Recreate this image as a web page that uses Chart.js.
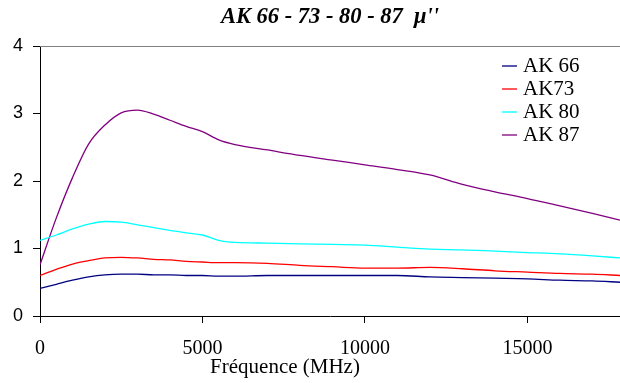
<!DOCTYPE html>
<html>
<head>
<meta charset="utf-8">
<script src="https://cdn.jsdelivr.net/npm/chart.js@4"></script>
<style>
  html, body { margin: 0; padding: 0; background: #fff; }
  canvas { display: block; }
</style>
</head>
<body>
<canvas id="muChart" width="620" height="383"></canvas>
<script>
// fréquences (MHz)
const freq = [0, 500, 1000, 1500, 2000, 2500, 3000, 3500, 4000, 4500, 5000, 5500, 6000,
    7000, 8000, 9000, 10000, 11000, 12000, 13000, 14000, 15000, 16000, 17000, 17850];
const freqTicks = [0, 5000, 10000, 15000];
const muTicks = [0, 1, 2, 3, 4];

// mu'' par échantillon
const ak66 = [0.41, 0.47, 0.53, 0.58, 0.61, 0.62, 0.62, 0.61, 0.61, 0.60, 0.60, 0.59, 0.59,
    0.60, 0.60, 0.60, 0.60, 0.60, 0.58, 0.57, 0.56, 0.55, 0.53, 0.52, 0.50];
const ak73 = [0.60, 0.69, 0.77, 0.82, 0.86, 0.87, 0.86, 0.84, 0.83, 0.81, 0.80, 0.79, 0.79,
    0.78, 0.75, 0.73, 0.71, 0.71, 0.72, 0.70, 0.67, 0.65, 0.63, 0.62, 0.60];
const ak80 = [1.12, 1.20, 1.29, 1.36, 1.40, 1.39, 1.35, 1.31, 1.27, 1.23, 1.20, 1.12, 1.09,
    1.08, 1.07, 1.06, 1.05, 1.02, 0.99, 0.98, 0.96, 0.94, 0.92, 0.89, 0.86];
const ak87 = [0.76, 1.45, 2.05, 2.55, 2.83, 3.01, 3.05, 2.99, 2.90, 2.81, 2.73, 2.61, 2.54,
    2.46, 2.38, 2.31, 2.24, 2.17, 2.09, 1.95, 1.84, 1.74, 1.63, 1.52, 1.42];

const seriesNames = ['AK 66', 'AK73', 'AK 80', 'AK 87'];
const seriesColors = ['#000080', '#ff0000', '#00ffff', '#800080'];
const seriesValues = [ak66, ak73, ak80, ak87];

const serif = "'Liberation Serif', 'Times New Roman', serif";

// légende + titre de l'axe X dessinés à la main (placement façon Excel)
const excelLegend = {
    id: 'excelLegend',
    afterDraw(chart) {
        const ctx = chart.ctx;
        const area = chart.chartArea;
        ctx.save();
        // bord haut de la zone de traçage
        ctx.strokeStyle = '#808080';
        ctx.lineWidth = 1;
        ctx.beginPath();
        ctx.moveTo(area.left, area.top + 0.5);
        ctx.lineTo(area.right, area.top + 0.5);
        ctx.stroke();

        ctx.font = '21px ' + serif;
        ctx.textBaseline = 'middle';
        ctx.textAlign = 'left';
        chart.data.datasets.forEach((ds, i) => {
            const y = 66 + i * 23;
            ctx.strokeStyle = ds.borderColor;
            ctx.lineWidth = 1.3;
            ctx.beginPath();
            ctx.moveTo(502, y);
            ctx.lineTo(517, y);
            ctx.stroke();
            ctx.fillStyle = '#000';
            ctx.fillText(ds.label, 523, y);
        });

        ctx.textAlign = 'center';
        ctx.fillText('Fréquence (MHz)', 285, 367);
        ctx.restore();
    }
};

const ctx = document.getElementById('muChart').getContext('2d');
new Chart(ctx, {
    type: 'line',
    data: {
        datasets: seriesValues.map((vals, i) => ({
            label: seriesNames[i],
            data: vals.map((v, j) => ({ x: freq[j], y: v })),
            borderColor: seriesColors[i],
            borderWidth: 1.3,
            pointRadius: 0,
            cubicInterpolationMode: 'monotone',
            fill: false
        }))
    },
    options: {
        responsive: false,
        animation: false,
        devicePixelRatio: 1,
        layout: { padding: 0 },
        plugins: {
            legend: { display: false },
            tooltip: { enabled: false },
            title: {
                display: true,
                fullSize: false,
                text: "AK 66 - 73 - 80 - 87  \u03bc''",
                color: '#000',
                font: { family: serif, size: 22.5, weight: 'bold', style: 'italic' },
                padding: { top: 4, bottom: 15 }
            }
        },
        scales: {
            x: {
                type: 'linear',
                min: 0,
                max: 17850,
                afterBuildTicks: s => { s.ticks = freqTicks.map(v => ({ value: v })); },
                afterFit: s => { s.height = 67; },
                grid: { drawOnChartArea: false, tickLength: 7, color: '#000' },
                border: { color: '#000', width: 1 },
                ticks: {
                    autoSkip: false,
                    maxRotation: 0,
                    padding: 14,
                    color: '#000',
                    font: { family: serif, size: 20 },
                    callback: v => String(v)
                }
            },
            y: {
                min: 0,
                max: 4,
                afterBuildTicks: s => { s.ticks = muTicks.map(v => ({ value: v })); },
                afterFit: s => { s.width = 40; },
                grid: { drawOnChartArea: false, tickLength: 7, color: '#000' },
                border: { color: '#000', width: 1 },
                ticks: {
                    padding: 10,
                    color: '#000',
                    font: { family: "'Liberation Sans', Arial, sans-serif", size: 18 },
                    callback: v => String(v)
                }
            }
        }
    },
    plugins: [excelLegend]
});
</script>
</body>
</html>
